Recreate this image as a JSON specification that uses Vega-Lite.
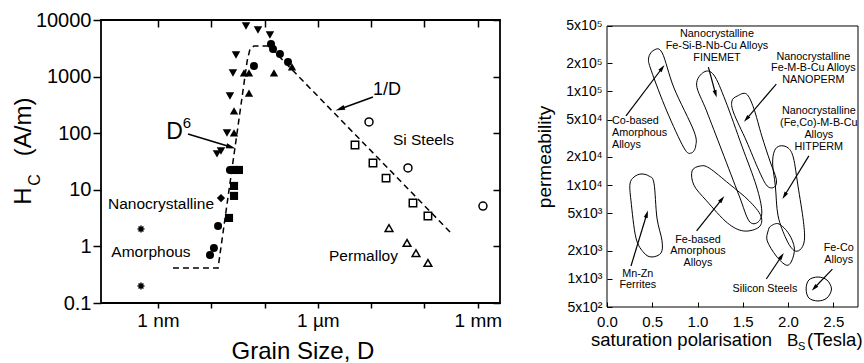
{
  "$schema": "https://vega.github.io/schema/vega-lite/v6.json",
  "background": "white",
  "padding": {"left": 11, "top": 9, "right": 0, "bottom": 0},
  "spacing": 32,
  "config": {
    "font": "Liberation Sans",
    "view": {"stroke": "black"},
    "axis": {"labelFont": "Liberation Sans", "labelColor": "black", "tickColor": "black", "domain": false, "grid": false, "labelFlush": false, "labelOverlap": false},
    "text": {"font": "Liberation Sans", "color": "black"}
  },
  "datasets": {
    "lpts": [
      {"D": 9.46, "H": 0.705, "k": "fc"}, {"D": 11.2, "H": 0.94, "k": "fc"}, {"D": 13.4, "H": 2.29, "k": "fc"}, {"D": 22.4, "H": 22.4, "k": "fc"}, {"D": 63.2, "H": 1540, "k": "fc"}, {"D": 132, "H": 3770, "k": "fc"}, {"D": 144, "H": 3070, "k": "fc"}, {"D": 194, "H": 2510, "k": "fc"}, {"D": 275, "H": 1810, "k": "fc"},
      {"D": 21.5, "H": 3.18, "k": "fs"}, {"D": 26.7, "H": 7.8, "k": "fs"}, {"D": 26.7, "H": 11.7, "k": "fs"}, {"D": 26.7, "H": 22.4, "k": "fs"}, {"D": 33.0, "H": 22.4, "k": "fs"},
      {"D": 15.2, "H": 7.16, "k": "fd"},
      {"D": 12.8, "H": 43, "k": "fdn"}, {"D": 15.2, "H": 48.5, "k": "fdn"}, {"D": 19.7, "H": 101, "k": "fdn"}, {"D": 22.4, "H": 454, "k": "fdn"}, {"D": 25.5, "H": 1160, "k": "fdn"}, {"D": 29.1, "H": 2410, "k": "fdn"}, {"D": 44.8, "H": 7830, "k": "fdn"}, {"D": 75.2, "H": 6660, "k": "fdn"}, {"D": 126, "H": 5430, "k": "fdn"},
      {"D": 26.7, "H": 101, "k": "fu"}, {"D": 26.7, "H": 247, "k": "fu"}, {"D": 51, "H": 513, "k": "fu"}, {"D": 41.1, "H": 1160, "k": "fu"}, {"D": 51, "H": 1160, "k": "fu"}, {"D": 150, "H": 1160, "k": "fu"}, {"D": 327, "H": 1480, "k": "fu"},
      {"D": 4970, "H": 62, "k": "os"}, {"D": 10800, "H": 29.7, "k": "os"}, {"D": 19000, "H": 16.1, "k": "os"}, {"D": 60800, "H": 5.85, "k": "os"}, {"D": 116000, "H": 3.44, "k": "os"},
      {"D": 9100, "H": 158, "k": "oc"}, {"D": 49000, "H": 24.3, "k": "oc"}, {"D": 1250000, "H": 5.17, "k": "oc"},
      {"D": 21600, "H": 2.11, "k": "ou"}, {"D": 47000, "H": 1.15, "k": "ou"}, {"D": 69200, "H": 0.76, "k": "ou"}, {"D": 116000, "H": 0.51, "k": "ou"},
      {"D": 0.48, "H": 2.03, "k": "ast"}, {"D": 0.48, "H": 0.2, "k": "ast"}
    ],
    "lline": [
      {"D": 1.91, "H": 0.415, "i": 0}, {"D": 13.4, "H": 0.415, "i": 1}, {"D": 47.1, "H": 1890, "i": 2}, {"D": 53.2, "H": 3070, "i": 3}, {"D": 63.2, "H": 3470, "i": 4}, {"D": 121, "H": 3470, "i": 5}, {"D": 314000, "H": 1.73, "i": 6}
    ],
    "larrows": [
      {"D": 3.65, "H": 97, "D2": 23.4, "H2": 57, "dir": 106.8},
      {"D": 10800, "H": 437, "D2": 2600, "H2": 268, "dir": 250}
    ],
    "ltext": [
      {"D": 1.14, "H": 5.6, "t": "Nanocrystalline", "g": "a"},
      {"D": 0.739, "H": 0.805, "t": "Amorphous", "g": "a"},
      {"D": 95700, "H": 75.8, "t": "Si Steels", "g": "a"},
      {"D": 7170, "H": 0.676, "t": "Permalloy", "g": "a"},
      {"D": 19800, "H": 573, "t": "1/D", "g": "b"},
      {"D": 2.04, "H": 103, "t": "D", "g": "c"},
      {"D": 3.5, "H": 151, "t": "6", "g": "d"},
      {"D": 0.00306, "H": 7.77, "t": "H", "g": "yt"},
      {"D": 0.00306, "H": 129, "t": "(A/m)", "g": "yt"},
      {"D": 0.00503, "H": 14.9, "t": "C", "g": "ys"},
      {"D": 525, "H": 0.01025, "t": "Grain Size, D", "g": "xt"}
    ],
    "rframe": [
      {"B": 0, "P": 500000, "B2": 2.773, "P2": 500000},
      {"B": 0, "P": 500, "B2": 2.773, "P2": 500},
      {"B": 0, "P": 500, "B2": 0, "P2": 500000},
      {"B": 2.773, "P": 500, "B2": 2.773, "P2": 500000}
    ],
    "loops": [
      {"B": 0.52, "P": 277000, "loop": "co", "i": 0}, {"B": 0.61, "P": 258000, "loop": "co", "i": 1}, {"B": 0.74, "P": 109000, "loop": "co", "i": 2}, {"B": 0.96, "P": 37800, "loop": "co", "i": 3}, {"B": 0.98, "P": 26200, "loop": "co", "i": 4}, {"B": 0.93, "P": 22000, "loop": "co", "i": 5}, {"B": 0.85, "P": 25000, "loop": "co", "i": 6}, {"B": 0.66, "P": 62000, "loop": "co", "i": 7}, {"B": 0.49, "P": 166000, "loop": "co", "i": 8}, {"B": 0.46, "P": 228000, "loop": "co", "i": 9},
      {"B": 1.07, "P": 161000, "loop": "fin", "i": 0}, {"B": 1.18, "P": 150000, "loop": "fin", "i": 1}, {"B": 1.31, "P": 79000, "loop": "fin", "i": 2}, {"B": 1.49, "P": 26200, "loop": "fin", "i": 3}, {"B": 1.65, "P": 9800, "loop": "fin", "i": 4}, {"B": 1.71, "P": 5300, "loop": "fin", "i": 5}, {"B": 1.67, "P": 4040, "loop": "fin", "i": 6}, {"B": 1.57, "P": 4140, "loop": "fin", "i": 7}, {"B": 1.46, "P": 7700, "loop": "fin", "i": 8}, {"B": 1.27, "P": 23200, "loop": "fin", "i": 9}, {"B": 1.10, "P": 62000, "loop": "fin", "i": 10}, {"B": 0.99, "P": 117000, "loop": "fin", "i": 11},
      {"B": 1.44, "P": 89500, "loop": "nano", "i": 0}, {"B": 1.54, "P": 94000, "loop": "nano", "i": 1}, {"B": 1.62, "P": 66700, "loop": "nano", "i": 2}, {"B": 1.71, "P": 33500, "loop": "nano", "i": 3}, {"B": 1.80, "P": 18100, "loop": "nano", "i": 4}, {"B": 1.87, "P": 11600, "loop": "nano", "i": 5}, {"B": 1.85, "P": 9550, "loop": "nano", "i": 6}, {"B": 1.77, "P": 9800, "loop": "nano", "i": 7}, {"B": 1.68, "P": 14200, "loop": "nano", "i": 8}, {"B": 1.54, "P": 29600, "loop": "nano", "i": 9}, {"B": 1.40, "P": 58900, "loop": "nano", "i": 10}, {"B": 1.38, "P": 79000, "loop": "nano", "i": 11},
      {"B": 1.85, "P": 23200, "loop": "hit", "i": 0}, {"B": 1.91, "P": 26200, "loop": "hit", "i": 1}, {"B": 2.00, "P": 25000, "loop": "hit", "i": 2}, {"B": 2.06, "P": 19500, "loop": "hit", "i": 3}, {"B": 2.11, "P": 9800, "loop": "hit", "i": 4}, {"B": 2.17, "P": 4100, "loop": "hit", "i": 5}, {"B": 2.18, "P": 2540, "loop": "hit", "i": 6}, {"B": 2.13, "P": 2030, "loop": "hit", "i": 7}, {"B": 2.06, "P": 2030, "loop": "hit", "i": 8}, {"B": 1.98, "P": 2660, "loop": "hit", "i": 9}, {"B": 1.89, "P": 4690, "loop": "hit", "i": 10}, {"B": 1.86, "P": 9800, "loop": "hit", "i": 11}, {"B": 1.83, "P": 16800, "loop": "hit", "i": 12},
      {"B": 1.81, "P": 3660, "loop": "si", "i": 0}, {"B": 1.90, "P": 3850, "loop": "si", "i": 1}, {"B": 2.01, "P": 3010, "loop": "si", "i": 2}, {"B": 2.07, "P": 2130, "loop": "si", "i": 3}, {"B": 2.04, "P": 1550, "loop": "si", "i": 4}, {"B": 1.98, "P": 1400, "loop": "si", "i": 5}, {"B": 1.87, "P": 1750, "loop": "si", "i": 6}, {"B": 1.77, "P": 2540, "loop": "si", "i": 7}, {"B": 1.78, "P": 3240, "loop": "si", "i": 8},
      {"B": 2.33, "P": 1045, "loop": "feco", "i": 0}, {"B": 2.43, "P": 971, "loop": "feco", "i": 1}, {"B": 2.48, "P": 778, "loop": "feco", "i": 2}, {"B": 2.43, "P": 624, "loop": "feco", "i": 3}, {"B": 2.33, "P": 580, "loop": "feco", "i": 4}, {"B": 2.23, "P": 624, "loop": "feco", "i": 5}, {"B": 2.20, "P": 778, "loop": "feco", "i": 6}, {"B": 2.23, "P": 971, "loop": "feco", "i": 7},
      {"B": 0.376, "P": 13150, "loop": "mnzn", "i": 0}, {"B": 0.464, "P": 12500, "loop": "mnzn", "i": 1}, {"B": 0.519, "P": 10500, "loop": "mnzn", "i": 2}, {"B": 0.552, "P": 4460, "loop": "mnzn", "i": 3}, {"B": 0.608, "P": 2540, "loop": "mnzn", "i": 4}, {"B": 0.597, "P": 1890, "loop": "mnzn", "i": 5}, {"B": 0.497, "P": 1710, "loop": "mnzn", "i": 6}, {"B": 0.409, "P": 1890, "loop": "mnzn", "i": 7}, {"B": 0.320, "P": 2730, "loop": "mnzn", "i": 8}, {"B": 0.265, "P": 6800, "loop": "mnzn", "i": 9}, {"B": 0.254, "P": 10300, "loop": "mnzn", "i": 10}, {"B": 0.298, "P": 12200, "loop": "mnzn", "i": 11},
      {"B": 0.94, "P": 14200, "loop": "feam", "i": 0}, {"B": 1.03, "P": 16000, "loop": "feam", "i": 1}, {"B": 1.13, "P": 15200, "loop": "feam", "i": 2}, {"B": 1.35, "P": 10300, "loop": "feam", "i": 3}, {"B": 1.57, "P": 6800, "loop": "feam", "i": 4}, {"B": 1.70, "P": 4690, "loop": "feam", "i": 5}, {"B": 1.68, "P": 3570, "loop": "feam", "i": 6}, {"B": 1.51, "P": 3240, "loop": "feam", "i": 7}, {"B": 1.33, "P": 3950, "loop": "feam", "i": 8}, {"B": 1.10, "P": 6800, "loop": "feam", "i": 9}, {"B": 0.96, "P": 10000, "loop": "feam", "i": 10}
    ],
    "rarrows": [
      {"B": 0.21, "P": 55000, "B2": 0.61, "P2": 178000, "dir": 38},
      {"B": 1.12, "P": 182000, "B2": 1.20, "P2": 94000, "dir": 163.5},
      {"B": 1.87, "P": 120000, "B2": 1.54, "P2": 50800, "dir": 220.6},
      {"B": 2.23, "P": 20500, "B2": 1.96, "P2": 7700, "dir": 212},
      {"B": 0.99, "P": 3240, "B2": 1.27, "P2": 7100, "dir": 38},
      {"B": 0.265, "P": 1370, "B2": 0.44, "P2": 4920, "dir": 17},
      {"B": 1.76, "P": 995, "B2": 1.93, "P2": 1750, "dir": 34.8},
      {"B": 2.49, "P": 1270, "B2": 2.29, "P2": 798, "dir": 223.5}
    ],
    "rtext": [
      {"B": 0.055, "P": 48400, "t": "Co-based", "g": "l"},
      {"B": 0.055, "P": 36100, "t": "Amorphous", "g": "l"},
      {"B": 0.055, "P": 26900, "t": "Alloys", "g": "l"},
      {"B": 1.215, "P": 411000, "t": "Nanocrystalline", "g": "c"},
      {"B": 1.215, "P": 306000, "t": "Fe-Si-B-Nb-Cu Alloys", "g": "c"},
      {"B": 1.215, "P": 228000, "t": "FINEMET", "g": "c"},
      {"B": 2.28, "P": 233000, "t": "Nanocrystalline", "g": "c"},
      {"B": 2.28, "P": 178000, "t": "Fe-M-B-Cu Alloys", "g": "c"},
      {"B": 2.28, "P": 133000, "t": "NANOPERM", "g": "c"},
      {"B": 2.34, "P": 62000, "t": "Nanocrystalline", "g": "c"},
      {"B": 2.34, "P": 46100, "t": "(Fe,Co)-M-B-Cu", "g": "c"},
      {"B": 2.34, "P": 34300, "t": "Alloys", "g": "c"},
      {"B": 2.34, "P": 25500, "t": "HITPERM", "g": "c"},
      {"B": 1.005, "P": 2590, "t": "Fe-based", "g": "c"},
      {"B": 1.005, "P": 1980, "t": "Amorphous", "g": "c"},
      {"B": 1.005, "P": 1480, "t": "Alloys", "g": "c"},
      {"B": 0.34, "P": 1125, "t": "Mn-Zn", "g": "c"},
      {"B": 0.34, "P": 860, "t": "Ferrites", "g": "c"},
      {"B": 1.745, "P": 778, "t": "Silicon Steels", "g": "c"},
      {"B": 2.56, "P": 2130, "t": "Fe-Co", "g": "c"},
      {"B": 2.56, "P": 1590, "t": "Alloys", "g": "c"},
      {"B": -0.177, "P": 190, "t": "saturation polarisation", "g": "xt"},
      {"B": 1.989, "P": 190, "t": "B", "g": "xb"},
      {"B": 2.11, "P": 172, "t": "S", "g": "xs"},
      {"B": 2.21, "P": 190, "t": "(Tesla)", "g": "xt"},
      {"B": -0.685, "P": 20000, "t": "permeability", "g": "yt"}
    ]
  },
  "hconcat": [
    {
      "width": 399,
      "height": 283,
      "view": {"stroke": "black", "strokeWidth": 1.8},
      "resolve": {"axis": {"x": "independent", "y": "independent"}, "scale": {"shape": "independent", "size": "independent"}},
      "layer": [
        {
          "data": {"name": "lline"},
          "mark": {"type": "line", "strokeDash": [6, 4], "strokeWidth": 1.5, "color": "black"},
          "encoding": {
            "x": {"field": "D", "type": "quantitative", "scale": {"type": "log", "domain": [0.0853, 2610000], "nice": false},
              "axis": {"orient": "bottom", "values": [1, 10, 100, 1000, 10000, 100000, 1000000], "labelExpr": "datum.value == 1 ? '1 nm' : datum.value == 1000 ? '1 µm' : datum.value == 1000000 ? '1 mm' : ''", "tickSize": 5, "tickWidth": 1.5, "labelFontSize": 19, "labelPadding": 3, "title": null}},
            "y": {"field": "H", "type": "quantitative", "scale": {"type": "log", "domain": [0.1, 10000], "nice": false},
              "axis": {"orient": "left", "values": [0.1, 1, 10, 100, 1000, 10000], "labelExpr": "datum.value < 1 ? '0.1' : format(datum.value, 'd')", "tickSize": 8, "tickWidth": 1.5, "labelFontSize": 20, "labelPadding": 2, "title": null}},
            "order": {"field": "i", "type": "quantitative"}
          }
        },
        {
          "data": {"name": "lpts"},
          "transform": [{"filter": "indexof(datum.k, 'f') == 0"}],
          "mark": {"type": "point", "filled": true, "color": "black", "opacity": 1, "strokeWidth": 0},
          "encoding": {
            "x": {"field": "D", "type": "quantitative", "scale": {"type": "log", "domain": [0.0853, 2610000], "nice": false},
              "axis": {"orient": "top", "values": [1, 10, 100, 1000, 10000, 100000, 1000000], "labels": false, "tickSize": -7, "tickWidth": 1.5, "title": null}},
            "y": {"field": "H", "type": "quantitative", "scale": {"type": "log", "domain": [0.1, 10000], "nice": false},
              "axis": {"orient": "right", "values": [0.1, 1, 10, 100, 1000, 10000], "labels": false, "tickSize": -7, "tickWidth": 1.5, "title": null}},
            "shape": {"field": "k", "type": "nominal", "scale": {"domain": ["fc", "fs", "fd", "fu", "fdn"], "range": ["circle", "square", "diamond", "triangle-up", "triangle-down"]}, "legend": null},
            "size": {"field": "k", "type": "ordinal", "scale": {"domain": ["fc", "fs", "fd", "fu", "fdn"], "range": [64, 72, 100, 85, 85]}, "legend": null}
          }
        },
        {
          "data": {"name": "lpts"},
          "transform": [{"filter": "datum.k == 'os'"}],
          "mark": {"type": "point", "filled": false, "color": "black", "opacity": 1, "strokeWidth": 1.5, "shape": "square", "size": 55},
          "encoding": {
            "x": {"field": "D", "type": "quantitative", "axis": null},
            "y": {"field": "H", "type": "quantitative", "axis": null}
          }
        },
        {
          "data": {"name": "lpts"},
          "transform": [{"filter": "datum.k == 'oc'"}],
          "mark": {"type": "point", "filled": false, "color": "black", "opacity": 1, "strokeWidth": 1.5, "shape": "circle", "size": 64},
          "encoding": {
            "x": {"field": "D", "type": "quantitative", "axis": null},
            "y": {"field": "H", "type": "quantitative", "axis": null}
          }
        },
        {
          "data": {"name": "lpts"},
          "transform": [{"filter": "datum.k == 'ou'"}],
          "mark": {"type": "point", "filled": false, "color": "black", "opacity": 1, "strokeWidth": 1.5, "shape": "triangle-up", "size": 60},
          "encoding": {
            "x": {"field": "D", "type": "quantitative", "axis": null},
            "y": {"field": "H", "type": "quantitative", "axis": null}
          }
        },
        {
          "data": {"name": "lpts"},
          "transform": [{"filter": "datum.k == 'ast'"}],
          "mark": {"type": "point", "filled": false, "color": "black", "opacity": 1, "strokeWidth": 1.5, "size": 49, "shape": "M-1,0L1,0M0,-1L0,1M-0.7,-0.7L0.7,0.7M-0.7,0.7L0.7,-0.7"},
          "encoding": {
            "x": {"field": "D", "type": "quantitative", "axis": null},
            "y": {"field": "H", "type": "quantitative", "axis": null}
          }
        },
        {
          "data": {"name": "larrows"},
          "mark": {"type": "rule", "color": "black", "strokeWidth": 1.5},
          "encoding": {
            "x": {"field": "D", "type": "quantitative", "axis": null},
            "y": {"field": "H", "type": "quantitative", "axis": null},
            "x2": {"field": "D2"},
            "y2": {"field": "H2"}
          }
        },
        {
          "data": {"name": "larrows"},
          "mark": {"type": "point", "filled": true, "color": "black", "opacity": 1, "strokeWidth": 0, "size": 90, "shape": "M0,-1L0.55,1L-0.55,1Z"},
          "encoding": {
            "x": {"field": "D2", "type": "quantitative", "axis": null},
            "y": {"field": "H2", "type": "quantitative", "axis": null},
            "angle": {"field": "dir", "type": "quantitative", "scale": null}
          }
        },
        {
          "data": {"name": "ltext"},
          "transform": [{"filter": "datum.g == 'a'"}],
          "mark": {"type": "text", "fontSize": 15.5, "align": "center", "baseline": "middle"},
          "encoding": {"x": {"field": "D", "type": "quantitative", "axis": null}, "y": {"field": "H", "type": "quantitative", "axis": null}, "text": {"field": "t"}}
        },
        {
          "data": {"name": "ltext"},
          "transform": [{"filter": "datum.g == 'b'"}],
          "mark": {"type": "text", "fontSize": 18, "align": "center", "baseline": "middle"},
          "encoding": {"x": {"field": "D", "type": "quantitative", "axis": null}, "y": {"field": "H", "type": "quantitative", "axis": null}, "text": {"field": "t"}}
        },
        {
          "data": {"name": "ltext"},
          "transform": [{"filter": "datum.g == 'c'"}],
          "mark": {"type": "text", "fontSize": 23, "align": "center", "baseline": "middle"},
          "encoding": {"x": {"field": "D", "type": "quantitative", "axis": null}, "y": {"field": "H", "type": "quantitative", "axis": null}, "text": {"field": "t"}}
        },
        {
          "data": {"name": "ltext"},
          "transform": [{"filter": "datum.g == 'd'"}],
          "mark": {"type": "text", "fontSize": 15, "align": "center", "baseline": "middle"},
          "encoding": {"x": {"field": "D", "type": "quantitative", "axis": null}, "y": {"field": "H", "type": "quantitative", "axis": null}, "text": {"field": "t"}}
        },
        {
          "data": {"name": "ltext"},
          "transform": [{"filter": "datum.g == 'yt'"}],
          "mark": {"type": "text", "fontSize": 24, "align": "center", "baseline": "middle", "angle": 270},
          "encoding": {"x": {"field": "D", "type": "quantitative", "axis": null}, "y": {"field": "H", "type": "quantitative", "axis": null}, "text": {"field": "t"}}
        },
        {
          "data": {"name": "ltext"},
          "transform": [{"filter": "datum.g == 'ys'"}],
          "mark": {"type": "text", "fontSize": 16, "align": "center", "baseline": "middle", "angle": 270},
          "encoding": {"x": {"field": "D", "type": "quantitative", "axis": null}, "y": {"field": "H", "type": "quantitative", "axis": null}, "text": {"field": "t"}}
        },
        {
          "data": {"name": "ltext"},
          "transform": [{"filter": "datum.g == 'xt'"}],
          "mark": {"type": "text", "fontSize": 24, "align": "center", "baseline": "alphabetic"},
          "encoding": {"x": {"field": "D", "type": "quantitative", "axis": null}, "y": {"field": "H", "type": "quantitative", "axis": null}, "text": {"field": "t"}}
        }
      ]
    },
    {
      "width": 251,
      "height": 287,
      "view": {"stroke": null},
      "resolve": {"axis": {"x": "independent", "y": "independent"}},
      "layer": [
        {
          "data": {"name": "loops"},
          "mark": {"type": "line", "interpolate": "cardinal-closed", "color": "black", "strokeWidth": 1},
          "encoding": {
            "x": {"field": "B", "type": "quantitative", "scale": {"type": "linear", "domain": [0, 2.773], "nice": false, "zero": false},
              "axis": {"orient": "bottom", "values": [0, 0.5, 1, 1.5, 2, 2.5], "format": ".1f", "ticks": false, "labelFontSize": 15, "labelPadding": 7, "title": null}},
            "y": {"field": "P", "type": "quantitative", "scale": {"type": "log", "domain": [500, 579400], "nice": false},
              "axis": {"orient": "left", "values": [500, 1000, 2000, 5000, 10000, 20000, 50000, 100000, 200000, 500000], "labelExpr": "floor(datum.value / pow(10, floor(log(datum.value) / LN10 + 1e-9)) + 0.5) + 'x10' + ['⁰','¹','²','³','⁴','⁵','⁶'][floor(log(datum.value) / LN10 + 1e-9)]", "ticks": false, "labelFontSize": 14, "labelPadding": 5, "title": null}},
            "detail": {"field": "loop"},
            "order": {"field": "i", "type": "quantitative"}
          }
        },
        {
          "data": {"name": "rframe"},
          "mark": {"type": "rule", "color": "black", "strokeWidth": 1},
          "encoding": {
            "x": {"field": "B", "type": "quantitative", "scale": {"type": "linear", "domain": [0, 2.773], "nice": false, "zero": false},
              "axis": {"orient": "bottom", "values": [0, 0.5, 1, 1.5, 2, 2.5], "labels": false, "tickSize": -5, "tickWidth": 1, "title": null}},
            "y": {"field": "P", "type": "quantitative", "scale": {"type": "log", "domain": [500, 579400], "nice": false},
              "axis": {"orient": "left", "values": [500, 1000, 2000, 5000, 10000, 20000, 50000, 100000, 200000, 500000], "labels": false, "tickSize": -5, "tickWidth": 1, "title": null}},
            "x2": {"field": "B2"},
            "y2": {"field": "P2"}
          }
        },
        {
          "data": {"name": "rarrows"},
          "mark": {"type": "rule", "color": "black", "strokeWidth": 1.2},
          "encoding": {
            "x": {"field": "B", "type": "quantitative", "axis": null},
            "y": {"field": "P", "type": "quantitative", "axis": null},
            "x2": {"field": "B2"},
            "y2": {"field": "P2"}
          }
        },
        {
          "data": {"name": "rarrows"},
          "mark": {"type": "point", "filled": true, "color": "black", "opacity": 1, "strokeWidth": 0, "size": 55, "shape": "M0,-1L0.55,1L-0.55,1Z"},
          "encoding": {
            "x": {"field": "B2", "type": "quantitative", "axis": null},
            "y": {"field": "P2", "type": "quantitative", "axis": null},
            "angle": {"field": "dir", "type": "quantitative", "scale": null}
          }
        },
        {
          "data": {"name": "rtext"},
          "transform": [{"filter": "datum.g == 'c'"}],
          "mark": {"type": "text", "fontSize": 10.8, "align": "center", "baseline": "middle"},
          "encoding": {"x": {"field": "B", "type": "quantitative", "axis": null}, "y": {"field": "P", "type": "quantitative", "axis": null}, "text": {"field": "t"}}
        },
        {
          "data": {"name": "rtext"},
          "transform": [{"filter": "datum.g == 'l'"}],
          "mark": {"type": "text", "fontSize": 10.8, "align": "left", "baseline": "middle"},
          "encoding": {"x": {"field": "B", "type": "quantitative", "axis": null}, "y": {"field": "P", "type": "quantitative", "axis": null}, "text": {"field": "t"}}
        },
        {
          "data": {"name": "rtext"},
          "transform": [{"filter": "datum.g == 'xt'"}],
          "mark": {"type": "text", "fontSize": 18.5, "align": "left", "baseline": "alphabetic"},
          "encoding": {"x": {"field": "B", "type": "quantitative", "axis": null}, "y": {"field": "P", "type": "quantitative", "axis": null}, "text": {"field": "t"}}
        },
        {
          "data": {"name": "rtext"},
          "transform": [{"filter": "datum.g == 'xb'"}],
          "mark": {"type": "text", "fontSize": 17, "align": "left", "baseline": "alphabetic"},
          "encoding": {"x": {"field": "B", "type": "quantitative", "axis": null}, "y": {"field": "P", "type": "quantitative", "axis": null}, "text": {"field": "t"}}
        },
        {
          "data": {"name": "rtext"},
          "transform": [{"filter": "datum.g == 'xs'"}],
          "mark": {"type": "text", "fontSize": 11, "align": "left", "baseline": "alphabetic"},
          "encoding": {"x": {"field": "B", "type": "quantitative", "axis": null}, "y": {"field": "P", "type": "quantitative", "axis": null}, "text": {"field": "t"}}
        },
        {
          "data": {"name": "rtext"},
          "transform": [{"filter": "datum.g == 'yt'"}],
          "mark": {"type": "text", "fontSize": 19, "align": "center", "baseline": "middle", "angle": 270},
          "encoding": {"x": {"field": "B", "type": "quantitative", "axis": null}, "y": {"field": "P", "type": "quantitative", "axis": null}, "text": {"field": "t"}}
        }
      ]
    }
  ]
}
